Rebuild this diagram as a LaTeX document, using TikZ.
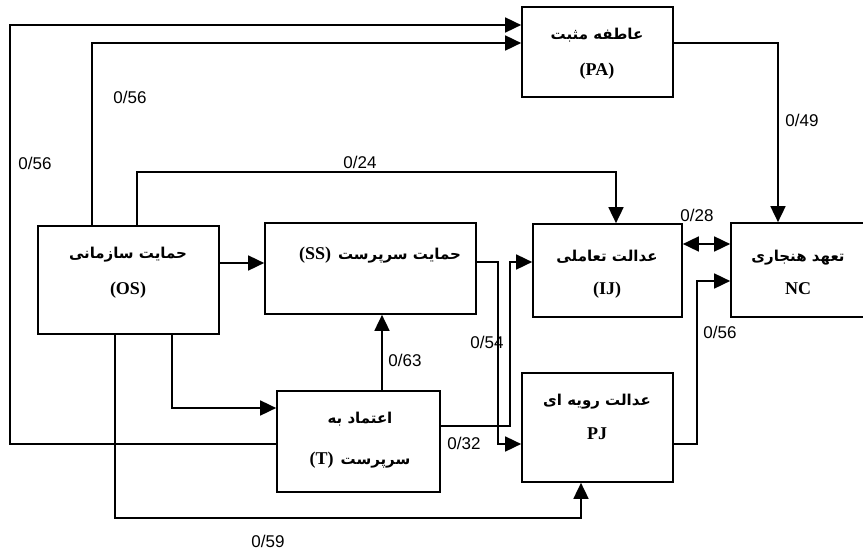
\documentclass[tikz,border=0pt]{standalone}
\usepackage{fontspec}
\setmainfont{Liberation Serif}
\newfontfamily\arabicfont[Script=Arabic]{DejaVu Sans}
\newfontfamily\numfont{Liberation Sans}
\TeXXeTstate=1
\usetikzlibrary{arrows.meta, positioning}
\newcommand{\fa}[1]{{\arabicfont\bfseries\fontsize{15}{17}\selectfont\beginR #1\endR}}
\newcommand{\en}[1]{{\bfseries\fontsize{18}{20}\selectfont #1}}
\tikzset{box/.style={draw, line width=1.7pt, inner sep=0pt}}
\tikzset{weight/.style={font=\numfont\fontsize{17}{19}\selectfont, inner sep=0pt}}
\tikzset{boxtext/.style={inner sep=0pt, anchor=base}}
\tikzstyle{arrow} = [line width=1.7pt, -{Triangle[length=16pt, width=15pt]}]
\tikzstyle{dblarrow} = [line width=1.7pt, {Triangle[length=16pt, width=15pt]}-{Triangle[length=16pt, width=15pt]}]

\begin{document}
\begin{tikzpicture}[x=1pt, y=-1pt]
	\useasboundingbox (0,0) rectangle (863,551);
	% Boxes
	\node (pa) [box, minimum width=151pt, minimum height=90pt] at (597.5,52) {};
	\node (os) [box, minimum width=181pt, minimum height=108pt] at (128.5,280) {};
	\node (ss) [box, minimum width=211pt, minimum height=91pt] at (370.5,268.5) {};
	\node (ij) [box, minimum width=149pt, minimum height=93pt] at (607.5,270.5) {};
	\node (nc) [box, minimum width=137pt, minimum height=94pt] at (799.5,270) {};
	\node (t) [box, minimum width=163pt, minimum height=101pt] at (358.5,441.5) {};
	\node (pj) [box, minimum width=151pt, minimum height=109pt] at (597.5,427.5) {};

	% Box texts
	\node (pa-name) [boxtext] at (597,40) {\fa{عاطفه مثبت}};
	\node (pa-code) [boxtext] at (597,76) {\en{(PA)}};
	\node (os-name) [boxtext] at (128,258) {\fa{حمایت سازمانی}};
	\node (os-code) [boxtext] at (128,294) {\en{(OS)}};
	\node (ss-name) [boxtext] at (380,259) {\en{(SS)}\hspace{7pt}\fa{حمایت سرپرست}};
	\node (ij-name) [boxtext] at (607,261) {\fa{عدالت تعاملی}};
	\node (ij-code) [boxtext] at (607,294) {\en{(IJ)}};
	\node (nc-name) [boxtext] at (798,261) {\fa{تعهد هنجاری}};
	\node (nc-code) [boxtext] at (798,294) {\en{NC}};
	\node (t-name) [boxtext] at (360,423) {\fa{اعتماد به}};
	\node (t-code) [boxtext] at (360,464) {\en{(T)}\hspace{7pt}\fa{سرپرست}};
	\node (pj-name) [boxtext] at (597,405) {\fa{عدالت رویه ای}};
	\node (pj-code) [boxtext] at (597,439) {\en{PJ}};

	% Connectors
	\draw [arrow] (t.west |- 0,444) -| (10,25) -- (pa.west |- 0,25);
	\draw [arrow] (os.north -| 92,0) |- (pa.west |- 0,43);
	\draw [arrow] (os.north -| 137,0) |- (616,172) -- (ij.north -| 616,0);
	\draw [arrow] (os.east |- 0,263) -- (ss.west |- 0,263);
	\draw [arrow] (os.south -| 172,0) |- (t.west |- 0,408);
	\draw [arrow] (os.south -| 115,0) |- (581,518) -- (pj.south -| 581,0);
	\draw [arrow] (t.north -| 382,0) -- (ss.south -| 382,0);
	\draw [arrow] (ss.east |- 0,262) -| (498,444) -- (pj.west |- 0,444);
	\draw [arrow] (t.east |- 0,426) -| (510,262) -- (ij.west |- 0,262);
	\draw [arrow] (pa.east |- 0,43) -| (nc.north -| 778,0);
	\draw [dblarrow] (ij.east |- 0,244) -- (nc.west |- 0,244);
	\draw [arrow] (pj.east |- 0,444) -| (697,281) -- (nc.west |- 0,281);

	% Weights
	\node (w-t-pa) [weight] at (35,163) {0/56};
	\node (w-os-pa) [weight] at (130,97) {0/56};
	\node (w-os-ij) [weight] at (360,162) {0/24};
	\node (w-t-ss) [weight] at (405,360) {0/63};
	\node (w-ss-pj) [weight] at (487,342) {0/54};
	\node (w-t-ij) [weight] at (464,443) {0/32};
	\node (w-os-pj) [weight] at (268,541) {0/59};
	\node (w-pa-nc) [weight] at (802,120) {0/49};
	\node (w-ij-nc) [weight] at (697,215) {0/28};
	\node (w-pj-nc) [weight] at (720,332) {0/56};
\end{tikzpicture}
\end{document}
